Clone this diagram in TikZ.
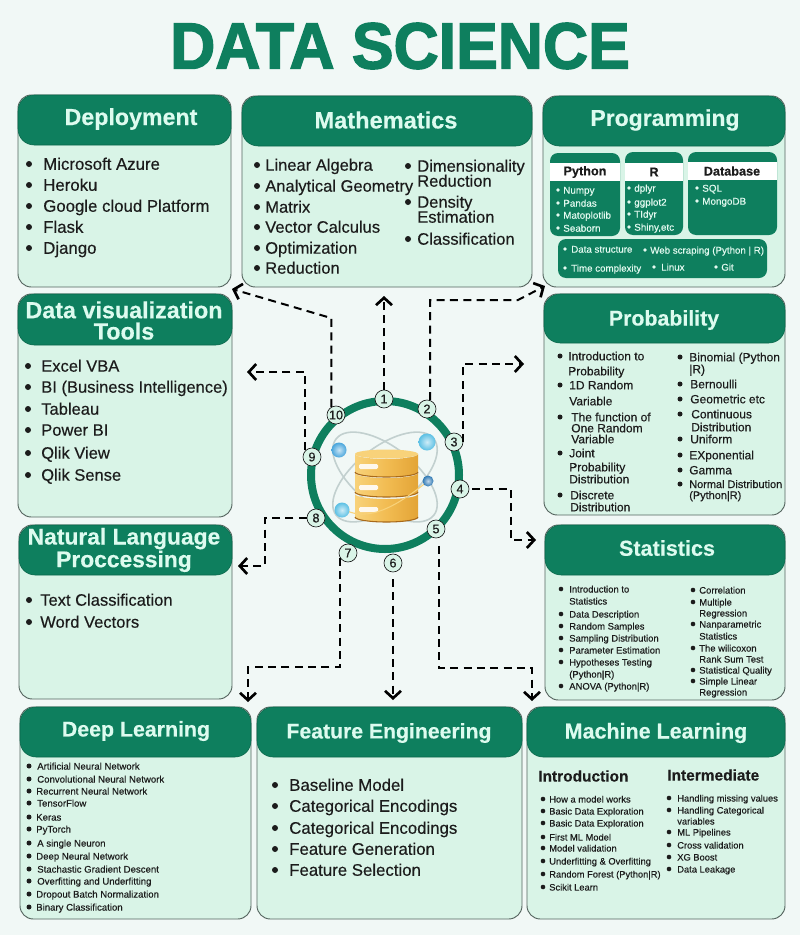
\documentclass[tikz,border=0pt]{standalone}
\usepackage{fontspec}
\setmainfont{Liberation Sans}[FakeBold=0.35]
\newfontfamily\heavyf{Liberation Sans Bold}[FakeBold=2.2]
\usetikzlibrary{arrows.meta}
\definecolor{bgc}{HTML}{F1F8F6}
\definecolor{panelc}{HTML}{D9F4E7}
\definecolor{hdrc}{HTML}{0E7F5E}
\definecolor{ttlc}{HTML}{DDFBEF}
\definecolor{inkc}{HTML}{1C1C1C}
\definecolor{edgec}{HTML}{55655F}
\definecolor{onhdr}{HTML}{E3FAF0}
\definecolor{goldl}{HTML}{F8D27A}
\definecolor{goldc}{HTML}{F2BC52}
\definecolor{goldd}{HTML}{E3A436}
\definecolor{goldline}{HTML}{A8691A}
\definecolor{orbc}{HTML}{C2D0CF}
\definecolor{atoma}{HTML}{4AA6DC}
\definecolor{atomb}{HTML}{5CC0E4}
\definecolor{atomc}{HTML}{2E78B4}
\tikzset{
  x=0.75pt,y=-0.75pt,
  panelbox/.style={draw=edgec,line width=0.7pt,fill=panelc,rounded corners=10pt},
  hdrbox/.style={fill=hdrc,draw=hdrc!80!black,line width=0.4pt,rounded corners=12pt},
  subbox/.style={fill=hdrc,rounded corners=6pt},
  ttlf/.style={text=ttlc,inner sep=0pt,align=center,font=\fontsize{#1pt}{15.9pt}\selectfont\bfseries},
  subhead/.style={inner sep=0pt,font=\fontsize{9.5pt}{10pt}\selectfont\bfseries,text=inkc},
  colhead/.style={anchor=mid west,inner sep=0pt,font=\fontsize{11.6pt}{12pt}\selectfont\bfseries,text=inkc},
  conn/.style={draw=black,line width=1.5pt,dash pattern=on 6pt off 4pt,-{Straight Barb[length=5.5pt,width=12pt,line width=2pt]}},
  numnode/.style={circle,draw=inkc,line width=0.5pt,fill=panelc,minimum size=13.5pt,inner sep=0pt,font=\fontsize{9.5pt}{10pt}\selectfont,text=inkc},
  orbit/.style={draw=orbc,line width=1.2pt},
  atom/.style={inner color=#1!30!white,outer color=#1},
}
\newcount\tc
\newcommand\setsz[1]{\def\cursz{#1}}
\def\curcol{inkc}\def\currad{2}
\newcommand\tx[3]{\global\advance\tc by 1
  \node[anchor=mid west,inner sep=0pt,text=\curcol,yshift=-(\cursz-7)*0.3pt,font=\fontsize{\cursz pt}{\cursz pt}\selectfont] (t\the\tc) at (#1,#2) {#3};}
\newcommand\bl[4]{\fill[\curcol] (#1,#3) circle[radius=\currad];\tx{#2}{#3}{#4}}
\newcommand\panel[5]{\draw[panelbox] (#1,#2) rectangle (#3,#4);\draw[hdrbox] (#1,#2) rectangle (#3,#5);}
\newcommand\sub[6]{\fill[subbox] (#1,#2) rectangle (#3,#4);\fill[white] (#1,#5) rectangle (#3,#6);}
\newcommand\drum[2]{%
  \shade[left color=goldl,right color=goldd,middle color=goldc]
    (355,#1) -- (355,#2) arc[start angle=180,end angle=0,x radius=31.5,y radius=5] -- (418,#1) arc[start angle=0,end angle=180,x radius=31.5,y radius=5] -- cycle;
  \draw[goldline,line width=0.8pt] (355,#2) arc[start angle=180,end angle=0,x radius=31.5,y radius=5];}
\begin{document}
\begin{tikzpicture}
\useasboundingbox (0,0) rectangle (800,935);
\fill[bgc] (0,0) rectangle (800,935);
\node[inner sep=0pt,text=hdrc,font=\fontsize{49pt}{49pt}\heavyf,xscale=0.957] (maintitle) at (400,46) {DATA SCIENCE};

% panels
\panel{18}{95}{231}{287}{145}
\panel{242}{96}{532}{287}{146}
\panel{543}{96}{785}{287}{146}
\panel{18}{294}{232}{517}{345}
\panel{544}{294}{785}{515}{343}
\panel{19}{525}{232}{699}{575}
\panel{545}{525}{785}{700}{575}
\panel{20}{707}{251}{919}{757}
\panel{257}{707}{522}{919}{757}
\panel{527}{707}{785}{919}{757}

% titles
\node[ttlf=17.4] (tdep) at (131,119) {Deployment};
\node[ttlf=17.7] (tmath) at (386,120) {Mathematics};
\node[ttlf=17.2] (tprog) at (665,120) {Programming};
\node[ttlf=17.5] (tviz) at (124,320.5) {Data visualization\\Tools};
\node[ttlf=16] (tprob) at (664,320) {Probability};
\node[ttlf=17.1] (tnlp) at (124,550) {Natural Language\\Proccessing};
\node[ttlf=16.2] (tstat) at (667,548) {Statistics};
\node[ttlf=16] (tdl) at (136,731) {Deep Learning};
\node[ttlf=15.9] (tfe) at (389,733) {Feature Engineering};
\node[ttlf=16.1] (tml) at (656,733) {Machine Learning};

% Deployment
\setsz{12.6}\def\currad{3}
\bl{29}{43}{164}{Microsoft Azure}
\bl{29}{43}{185}{Heroku}
\bl{29}{43}{206}{Google cloud Platform}
\bl{29}{43}{227}{Flask}
\bl{29}{43}{248}{Django}

% Mathematics
\setsz{12.4}
\bl{257}{265}{165}{Linear Algebra}
\bl{257}{265}{186}{Analytical Geometry}
\bl{257}{265}{207}{Matrix}
\bl{257}{265}{227}{Vector Calculus}
\bl{257}{265}{248}{Optimization}
\bl{257}{265}{268}{Reduction}
\bl{408}{417}{166}{Dimensionality}
\tx{417}{181}{Reduction}
\bl{408}{417}{202}{Density}
\tx{417}{217}{Estimation}
\bl{408}{417}{239}{Classification}

% Programming
\sub{550}{153}{620}{236}{163}{181}
\sub{625}{152}{683}{235}{163}{181}
\sub{688}{152}{777}{235}{162}{180}
\fill[subbox] (558,239) rectangle (767,278);
\node[subhead] (hpy) at (585,172) {Python};
\node[subhead] (hr) at (654,172) {R};
\node[subhead] (hdb) at (732,171) {Database};
\def\curcol{onhdr}\def\currad{1.8}
\setsz{7.4}
\bl{558}{563}{190}{Numpy}
\bl{558}{563}{203}{Pandas}
\bl{558}{563}{215}{Matoplotlib}
\bl{558}{563}{228}{Seaborn}
\bl{629}{634}{188}{dplyr}
\bl{629}{634}{202}{ggplot2}
\bl{629}{634}{214}{TIdyr}
\bl{629}{634}{227}{Shiny,etc}
\bl{697}{702}{188}{SQL}
\bl{697}{702}{201}{MongoDB}
\setsz{7.3}
\bl{565}{571}{249}{Data structure}
\bl{645}{650}{250}{Web scraping (Python | R)}
\bl{565}{571}{268}{Time complexity}
\bl{654}{661}{267}{Linux}
\bl{716}{721}{267}{Git}
\def\curcol{inkc}

% Data viz
\setsz{12.4}\def\currad{3}
\bl{28}{41}{366}{Excel VBA}
\bl{28}{41}{387}{BI (Business Intelligence)}
\bl{28}{41}{409}{Tableau}
\bl{28}{41}{430}{Power BI}
\bl{28}{41}{453}{Qlik View}
\bl{28}{41}{475}{Qlik Sense}

% NLP
\bl{29}{40}{600}{Text Classification}
\bl{29}{40}{622}{Word Vectors}

% Probability
\setsz{9}\def\currad{2.5}
\bl{560}{568}{356}{Introduction to}
\tx{568}{371}{Probability}
\bl{560}{569}{385}{1D Random}
\tx{569}{401}{Variable}
\bl{560}{571}{417}{The function of}
\tx{571}{428}{One Random}
\tx{571}{439}{Variable}
\bl{560}{569}{453}{Joint}
\tx{569}{467}{Probability}
\tx{569}{479}{Distribution}
\bl{560}{570}{495}{Discrete}
\tx{570}{507}{Distribution}
\bl{680}{689}{357}{Binomial (Python}
\tx{689}{369}{|R)}
\bl{680}{690}{384}{Bernoulli}
\bl{680}{690}{399}{Geometric etc}
\bl{680}{691}{414}{Continuous}
\tx{691}{427}{Distribution}
\bl{680}{690}{439}{Uniform}
\bl{680}{689}{455}{EXponential}
\bl{680}{689}{470}{Gamma}
\setsz{8.2}
\bl{680}{689}{484}{Normal Distribution}
\tx{689}{495}{(Python|R)}

% Statistics
\setsz{7.1}\def\currad{2.3}
\bl{561}{569}{589}{Introduction to}
\tx{569}{601}{Statistics}
\bl{561}{569}{614}{Data Description}
\bl{561}{569}{626}{Random Samples}
\bl{561}{569}{638}{Sampling Distribution}
\bl{561}{569}{650}{Parameter Estimation}
\bl{561}{569}{662}{Hypotheses Testing}
\tx{569}{674}{(Python|R)}
\bl{561}{569}{686}{ANOVA (Python|R)}
\bl{693}{699}{590}{Correlation}
\bl{693}{699}{602}{Multiple}
\tx{699}{613}{Regression}
\bl{693}{699}{624}{Nanparametric}
\tx{699}{636}{Statistics}
\bl{693}{699}{648}{The wilicoxon}
\tx{699}{659}{Rank Sum Test}
\bl{693}{699}{670}{Statistical Quality}
\bl{693}{699}{681}{Simple Linear}
\tx{699}{692}{Regression}

% Deep Learning
\setsz{7.2}\def\currad{2.5}
\bl{29}{37}{766}{Artificial Neural Network}
\bl{29}{37}{779}{Convolutional Neural Network}
\bl{29}{36}{791}{Recurrent Neural Network}
\bl{29}{37}{803}{TensorFlow}
\bl{29}{36}{817}{Keras}
\bl{29}{36}{829}{PyTorch}
\bl{29}{37}{843}{A single Neuron}
\bl{29}{36}{856}{Deep Neural Network}
\bl{29}{37}{869}{Stachastic Gradient Descent}
\bl{29}{37}{881}{Overfitting and Underfitting}
\bl{29}{36}{894}{Dropout Batch Normalization}
\bl{29}{36}{907}{Binary Classification}

% Feature Engineering
\setsz{12.6}\def\currad{3}
\bl{275}{289}{785}{Baseline Model}
\bl{275}{289}{806}{Categorical Encodings}
\bl{275}{289}{828}{Categorical Encodings}
\bl{275}{289}{849}{Feature Generation}
\bl{275}{289}{870}{Feature Selection}

% Machine Learning
\node[colhead] (mli) at (538,778) {Introduction};
\node[colhead] (mlm) at (667,777) {Intermediate};
\setsz{7}\def\currad{2.3}
\bl{543}{549}{799}{How a model works}
\bl{543}{549}{811}{Basic Data Exploration}
\bl{543}{549}{823}{Basic Data Exploration}
\bl{543}{549}{837}{First ML Model}
\bl{543}{549}{848}{Model validation}
\bl{543}{549}{861}{Underfitting \& Overfitting}
\bl{543}{549}{874}{Random Forest (Python|R)}
\bl{543}{549}{887}{Scikit Learn}
\bl{669}{677}{798}{Handling missing values}
\bl{669}{677}{810}{Handling Categorical}
\tx{677}{821}{variables}
\bl{669}{677}{832}{ML Pipelines}
\bl{669}{677}{845}{Cross validation}
\bl{669}{677}{857}{XG Boost}
\bl{669}{677}{869}{Data Leakage}

% central ring
\draw[hdrc,line width=6pt] (385,475) circle[radius=74];

% orbits behind the database
\draw[orbit,rotate around={-38:(385,477)}] (385,477) ellipse[x radius=62,y radius=30];
\draw[orbit,rotate around={38:(385,477)}] (385,477) ellipse[x radius=62,y radius=30];

% database
\drum{494}{517}
\drum{473}{492}
\drum{454}{472}
\fill[goldl] (386.5,454) ellipse[x radius=31.5,y radius=4.5];
\fill[white!90!goldc,rounded corners=1pt] (359,464) rectangle (378,469);
\fill[white!90!goldc,rounded corners=1pt] (359,485) rectangle (378,490);
\fill[white!90!goldc,rounded corners=1pt] (359,507) rectangle (378,512);
\draw[goldl,line width=0.8pt] (345,510) .. controls (375,525) and (410,495) .. (432,478);
% atoms
\shade[atom=atoma] (339,450) circle[radius=7.5];
\shade[atom=atomb] (427,442) circle[radius=8.5];
\shade[atom=atomc] (428,481) circle[radius=5.5];
\shade[atom=atomb] (342,510) circle[radius=7.5];

% numbered nodes
\node[numnode] (n1) at (384,399) {1};
\node[numnode] (n2) at (427,409) {2};
\node[numnode] (n3) at (454,442) {3};
\node[numnode] (n4) at (460,489) {4};
\node[numnode] (n5) at (436,529) {5};
\node[numnode] (n6) at (393,563) {6};
\node[numnode] (n7) at (348,553) {7};
\node[numnode] (n8) at (316,518) {8};
\node[numnode] (n9) at (312,457) {9};
\node[numnode] (n10) at (336,415) {10};

% connector free ends
\coordinate (e1) at (384,296);
\coordinate (b2) at (518,300); \coordinate (e2) at (545,286);
\coordinate (e3) at (524,364);
\coordinate (b4) at (511,540); \coordinate (e4) at (536,540);
\coordinate (b5) at (532,668); \coordinate (e5) at (532,701);
\coordinate (e6) at (393,700);
\coordinate (b7) at (248,667); \coordinate (e7) at (248,702);
\coordinate (b8) at (265,566); \coordinate (e8) at (238,566);
\coordinate (e9) at (247,372);
\coordinate (b10) at (331,318); \coordinate (e10) at (232,289);

\draw[conn] (n1.north) -- (e1);
\draw[conn] (n2.70) |- (b2) -- (e2);
\draw[conn] (n3.east) |- (e3);
\draw[conn,shorten <=2pt] (n4.east) -| (b4) -- (e4);
\draw[conn,shorten <=6pt] (n5.-70) |- (b5) -- (e5);
\draw[conn,shorten <=5pt] (n6.south) -- (e6);
\draw[conn] (n7.-150) |- (b7) -- (e7);
\draw[conn] (n8.west) -| (b8) -- (e8);
\draw[conn] (n9.135) |- (e9);
\draw[conn] (n10.120) |- (b10) -- (e10);
\end{tikzpicture}
\end{document}
